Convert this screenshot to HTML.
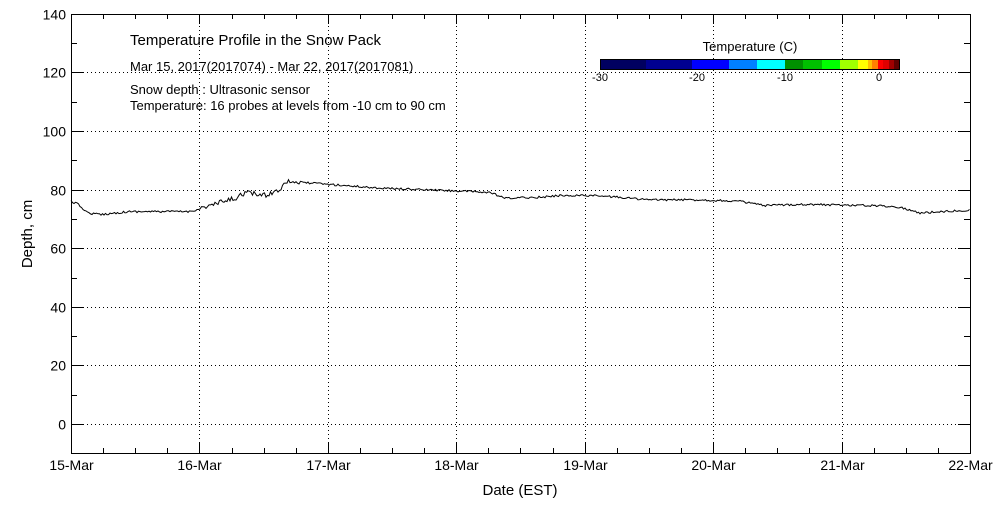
<!DOCTYPE html>
<html><head><meta charset="utf-8"><style>
body{margin:0;background:#fff;}
svg text{font-family:"Liberation Sans",sans-serif;fill:#000;}
</style></head><body>
<svg id="s" width="1000" height="500" xmlns="http://www.w3.org/2000/svg">
<rect width="1000" height="500" fill="#fff"/>
<g id="grid" stroke="#000" stroke-width="1" stroke-dasharray="1,3"></g>
<g id="cb"></g>
<rect x="71.5" y="14.5" width="899" height="439" fill="none" stroke="#000"/>
<g id="ticks" stroke="#000"></g>
<g id="lab" font-size="14"></g>
<polyline id="ln" fill="none" stroke="#000" stroke-width="1"/>
<text x="130" y="45" font-size="15">Temperature Profile in the Snow Pack</text>
<text x="130" y="71" font-size="13">Mar 15, 2017(2017074) - Mar 22, 2017(2017081)</text>
<text x="130" y="94" font-size="13">Snow depth : Ultrasonic sensor</text>
<text x="130" y="110" font-size="13">Temperature: 16 probes at levels from -10 cm to 90 cm</text>
<text x="750" y="51" font-size="13" text-anchor="middle">Temperature (C)</text>
<text x="520" y="495" font-size="15" text-anchor="middle">Date (EST)</text>
<text transform="translate(32,234) rotate(-90)" font-size="15" text-anchor="middle">Depth, cm</text>
</svg>
<script>
var NS="http://www.w3.org/2000/svg";
function el(p,t,a,txt){var e=document.createElementNS(NS,t);for(var k in a)e.setAttribute(k,a[k]);if(txt!==undefined)e.textContent=txt;document.getElementById(p).appendChild(e);return e;}
var X0=71,X1=970,dx=(X1-X0)/7;
function Y(d){return 424-d*2.93;}
var days=["15-Mar","16-Mar","17-Mar","18-Mar","19-Mar","20-Mar","21-Mar","22-Mar"];
for(var i=0;i<8;i++){var x=Math.round(X0+i*dx)+0.5;
 if(i>0&&i<7)el("grid","line",{x1:x,y1:14,x2:x,y2:453});
 el("ticks","line",{x1:x,y1:453,x2:x,y2:443});el("ticks","line",{x1:x,y1:14,x2:x,y2:24});
 el("lab","text",{x:x,y:470,"text-anchor":"middle"},days[i]);
 for(var j=1;j<4&&i<7;j++){var xm=Math.round(X0+i*dx+j*dx/4)+0.5;el("ticks","line",{x1:xm,y1:453,x2:xm,y2:448});el("ticks","line",{x1:xm,y1:14,x2:xm,y2:19});}
}
for(var d=0;d<=140;d+=20){var y=Math.round(Y(d))+0.5;
 if(d<140)el("grid","line",{x1:71,y1:y,x2:970,y2:y});
 el("ticks","line",{x1:71,y1:y,x2:83,y2:y});el("ticks","line",{x1:970,y1:y,x2:958,y2:y});
 el("lab","text",{x:66,y:y+5,"text-anchor":"end"},String(d));}
for(var d=-10;d<140;d+=10){if(d%20==0)continue;var y=Math.round(Y(d))+0.5;el("ticks","line",{x1:71,y1:y,x2:77,y2:y});el("ticks","line",{x1:970,y1:y,x2:964,y2:y});}
var cols=[[600,646,"#000060"],[646,692,"#000090"],[692,729,"#0000ff"],[729,757,"#0080ff"],[757,785,"#00ffff"],[785,803,"#009000"],[803,822,"#00c000"],[822,840,"#00ff00"],[840,858,"#a0ff00"],[858,868,"#ffff00"],[868,872,"#ffc000"],[872,878,"#ff8000"],[878,883,"#ff0000"],[883,889,"#e00000"],[889,894,"#a00000"],[894,900,"#600000"]];
cols.forEach(function(c){el("cb","rect",{x:c[0],y:59,width:c[1]-c[0],height:10,fill:c[2]});});
el("cb","rect",{x:600.5,y:59.5,width:299,height:10,fill:"none",stroke:"#000"});
[[600,"-30"],[697,"-20"],[785,"-10"],[879,"0"]].forEach(function(t){el("cb","text",{x:t[0],y:81,"font-size":"11","text-anchor":"middle"},t[1]);});
var pts=[[71,76],[78,75],[88,72],[100,71.5],[130,72.5],[190,72.5],[205,74],[215,75],[235,77],[245,79],[265,78],[280,80],[285,83],[300,82.5],[340,81.5],[380,80.5],[420,80],[460,79.5],[490,79],[505,77],[545,77.5],[560,78],[590,78],[615,77.5],[650,76.5],[700,76.5],[740,76],[765,74.5],[800,75],[880,74.5],[900,74],[920,72],[940,72.5],[970,73]];
var s=12345;function r(){s=(s*16807)%2147483647;return s/2147483647-0.5;}
var out=[];
for(var x=71;x<=970;x+=1.5){var k=0;while(k<pts.length-2&&pts[k+1][0]<x)k++;
 var a=pts[k],b=pts[k+1],t=(x-a[0])/(b[0]-a[0]);var d=a[1]+(b[1]-a[1])*Math.max(0,Math.min(1,t));
 var amp=(x>200&&x<300)?1.8:0.7;out.push(x.toFixed(1)+","+(Y(d)+r()*amp*2.93).toFixed(1));}
document.getElementById("ln").setAttribute("points",out.join(" "));
</script>
</body></html>
